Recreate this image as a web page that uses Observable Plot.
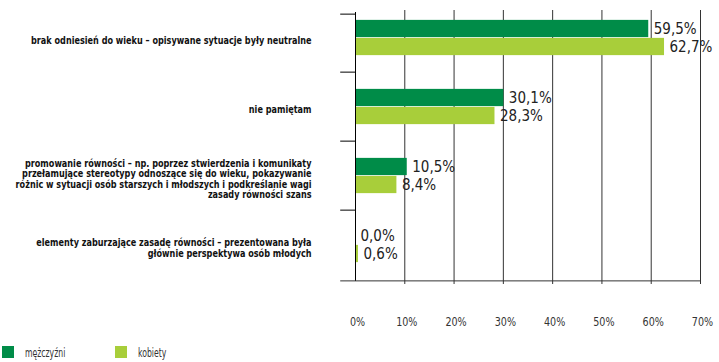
<!DOCTYPE html>
<html>
<head>
<meta charset="utf-8">
<script src="https://cdn.jsdelivr.net/npm/d3@7"></script>
<script src="https://cdn.jsdelivr.net/npm/@observablehq/plot@0.6"></script>
<style>
  html, body { margin: 0; padding: 0; background: #fff; }
  #wrap { position: relative; width: 719px; height: 362px; overflow: hidden; }
  #legend { position: absolute; left: 0; top: 345px; width: 300px; height: 16px;
            font-family: 'DejaVu Sans Condensed', sans-serif; font-size: 13px; color: #333; }
  #legend .item { position: absolute; top: 0; display: flex; align-items: center; height: 14px; }
  #legend .sw { width: 12px; height: 12px; display: inline-block; margin-right: 11px; }
  #legend .lab { display: inline-block; transform: scaleX(0.66); transform-origin: left center; white-space: nowrap; }
</style>
</head>
<body>
<div id="wrap"><div id="chart"></div><div id="legend"></div></div>
<script>
const categories = [
  "brak odniesień do wieku – opisywane sytuacje były neutralne",
  "nie pamiętam",
  "promowanie równości – np. poprzez stwierdzenia i komunikaty przełamujące stereotypy odnoszące się do wieku, pokazywanie różnic w sytuacji osób starszych i młodszych i podkreślanie wagi zasady równości szans",
  "elementy zaburzające zasadę równości – prezentowana była głównie perspektywa osób młodych"
];
const categoryLines = [
  "brak odniesień do wieku – opisywane sytuacje były neutralne",
  "nie pamiętam",
  "promowanie równości – np. poprzez stwierdzenia i komunikaty\nprzełamujące stereotypy odnoszące się do wieku, pokazywanie\nróżnic w sytuacji osób starszych i młodszych i podkreślanie wagi\nzasady równości szans",
  "elementy zaburzające zasadę równości – prezentowana była\ngłównie perspektywa osób młodych"
];
const series = ["mężczyźni", "kobiety"];
const men = [59.5, 30.1, 10.5, 0.0];
const women = [62.7, 28.3, 8.4, 0.6];
const xTicks = [0, 10, 20, 30, 40, 50, 60, 70];
const colors = ["#008c48", "#a8ce3a"];

const rows = [];
categories.forEach((c, i) => {
  rows.push({category: c, series: series[0], value: men[i]});
  rows.push({category: c, series: series[1], value: women[i]});
});
const lineOf = new Map(categories.map((c, i) => [c, categoryLines[i]]));

const yRange = [1, 280];
const step = (yRange[1] - yRange[0]) / categories.length;
const barH = 18;
const outer = (step - 2 * barH) / 2;
const fmt = v => v.toFixed(1).replace(".", ",") + "%";
const FONT = "'DejaVu Sans Condensed', sans-serif";

const chart = Plot.plot({
  width: 719,
  height: 340,
  marginLeft: 355,
  marginRight: 19,
  marginTop: 10,
  marginBottom: 56,
  style: {fontFamily: FONT, background: "#fff"},
  x: {domain: [0, 70], label: null},
  y: {domain: categories, range: yRange, padding: 0, label: null},
  marks: [
    Plot.ruleX(xTicks.slice(1), {stroke: "#333", strokeWidth: 1}),
    Plot.barX(rows.filter(d => d.series === series[0]), {
      x: "value", y: "category", fill: colors[0], insetTop: outer, insetBottom: outer + barH
    }),
    Plot.barX(rows.filter(d => d.series === series[1]), {
      x: "value", y: "category", fill: colors[1], insetTop: outer + barH, insetBottom: outer
    }),
    Plot.ruleX([0], {stroke: "#000", strokeWidth: 1, insetTop: 2, insetBottom: 3}),
    Plot.ruleY([categories[0]], {x1: -3, x2: 0, dy: -step / 2 + 11, stroke: "#000"}),
    Plot.ruleY(categories.slice(1), {x1: -3, x2: 0, dy: -step / 2, stroke: "#000"}),
    Plot.ruleY([categories[categories.length - 1]], {x1: -3, x2: 70, dy: step / 2 + 1, stroke: "#333"}),
    Plot.text(rows.filter(d => d.series === series[0]), {
      x: "value", y: "category", dy: -barH / 2, dx: 5, text: d => fmt(d.value),
      textAnchor: "start", fontSize: 15, fill: "#222", ariaLabel: "value-label"
    }),
    Plot.text(rows.filter(d => d.series === series[1]), {
      x: "value", y: "category", dy: barH / 2, dx: 5, text: d => fmt(d.value),
      textAnchor: "start", fontSize: 15, fill: "#222", ariaLabel: "value-label"
    }),
    Plot.axisY({
      tickSize: 0, tickPadding: 44, tickFormat: d => lineOf.get(d), label: null,
      fontWeight: "bold", fontSize: 11, lineHeight: 0.96, fill: "#111",
      stroke: "#111", strokeWidth: 0.35, dy: 3
    }),
    Plot.axisX({
      ticks: xTicks, tickFormat: d => d + "%", tickSize: 0, tickPadding: 32, label: null,
      fontSize: 13, fill: "#333", dx: 2
    })
  ]
});
document.getElementById("chart").appendChild(chart);

// horizontally condense texts around their anchor point (horizontal scale only)
function condense(selector, s) {
  chart.querySelectorAll(selector).forEach(t => {
    const xa = t.getAttribute("x");
    const x = xa && /^-?[\d.]+$/.test(xa) ? +xa : 0;
    const tr = t.getAttribute("transform") || "";
    t.setAttribute("transform", `${tr} translate(${x},0) scale(${s},1) translate(${-x},0)`);
  });
}
condense('g[aria-label="y-axis tick label"] text', 0.82);
condense('g[aria-label="x-axis tick label"] text', 0.82);
condense('g[aria-label="value-label"] text', 0.79);

const legend = document.getElementById("legend");
const legendLeft = [2, 115];
series.forEach((s, i) => {
  const item = document.createElement("div");
  item.className = "item";
  item.style.left = legendLeft[i] + "px";
  const sw = document.createElement("span");
  sw.className = "sw";
  sw.style.background = colors[i];
  const t = document.createElement("span");
  t.className = "lab";
  t.textContent = s;
  item.appendChild(sw);
  item.appendChild(t);
  legend.appendChild(item);
});
</script>
</body>
</html>
